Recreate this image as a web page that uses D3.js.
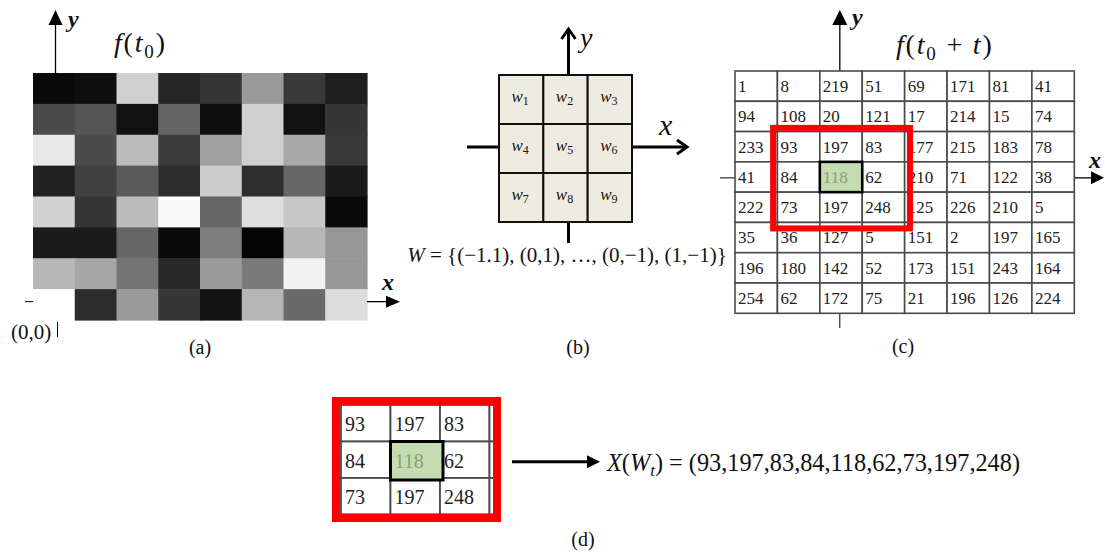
<!DOCTYPE html>
<html>
<meta charset="utf-8">
<head>
<script src="https://d3js.org/d3.v7.min.js"></script>
<style>
body { margin: 0; background: #fff; }
svg text { font-family: "Times New Roman", Tinos, "Liberation Serif", Times, serif; fill: #111; }
</style>
</head>
<body>
<script>
// grey level of every pixel of frame f(t0), top row first
var greyRows = [
  [10, 15, 208, 38, 54, 154, 58, 30],
  [74, 85, 17, 100, 14, 208, 17, 54],
  [232, 75, 187, 59, 160, 207, 168, 56],
  [34, 65, 90, 44, 204, 46, 102, 27],
  [210, 54, 188, 250, 102, 222, 200, 10],
  [27, 27, 102, 10, 124, 5, 182, 150],
  [184, 166, 116, 40, 154, 122, 242, 150],
  [255, 44, 154, 54, 18, 182, 106, 220]
];

// pixel values of frame f(t0 + t)
var pixelRows = [
  [1, 8, 219, 51, 69, 171, 81, 41],
  [94, 108, 20, 121, 17, 214, 15, 74],
  [233, 93, 197, 83, 177, 215, 183, 78],
  [41, 84, 118, 62, 210, 71, 122, 38],
  [222, 73, 197, 248, 125, 226, 210, 5],
  [35, 36, 127, 5, 151, 2, 197, 165],
  [196, 180, 142, 52, 173, 151, 243, 164],
  [254, 62, 172, 75, 21, 196, 126, 224]
];

var windowSubs = ["1", "2", "3", "4", "5", "6", "7", "8", "9"];
var windowTop = 2, windowLeft = 1;   // window position in (c)
var neighbourSet = "W = {(\u22121.1), (0,1), \u2026, (0,\u22121), (1,\u22121)}";
var panelLabels = ["(a)", "(b)", "(c)", "(d)"];

var svg = d3.select("body").append("svg")
  .attr("width", 1105).attr("height", 553);

function arrow(g, x1, y1, x2, y2, w, head, open) {
  var dx = x2 - x1, dy = y2 - y1, len = Math.sqrt(dx * dx + dy * dy);
  var ux = dx / len, uy = dy / len, px = -uy, py = ux;
  var L = head[0], H = head[1];
  var bx = x2 - ux * L, by = y2 - uy * L;
  g.append("line").attr("x1", x1).attr("y1", y1)
    .attr("x2", open ? x2 - ux * 2 : bx + ux).attr("y2", open ? y2 - uy * 2 : by + uy)
    .attr("stroke", "#000").attr("stroke-width", w);
  var pts = [[bx + px * H, by + py * H], [x2, y2], [bx - px * H, by - py * H]];
  if (open) {
    g.append("polyline").attr("points", pts.join(" "))
      .attr("fill", "none").attr("stroke", "#000").attr("stroke-width", w);
  } else {
    g.append("polygon").attr("points", pts.join(" ")).attr("fill", "#000");
  }
}

// f(t0 ...) heading with a subscript zero
function frameTitle(g, x, y, tail) {
  var t = g.append("text").attr("x", x).attr("y", y).attr("font-size", 28)
    .attr("letter-spacing", 1.8);
  t.append("tspan").attr("font-style", "italic").text("f");
  t.append("tspan").text("(");
  t.append("tspan").attr("font-style", "italic").text("t");
  t.append("tspan").attr("font-size", 19).attr("dy", 6).text("0");
  if (tail) {
    t.append("tspan").attr("dy", -6).text(" + ");
    t.append("tspan").attr("font-style", "italic").text("t");
    t.append("tspan").text(")");
  } else {
    t.append("tspan").attr("dy", -6).text(")");
  }
}

// ---------- (a) ----------
var ga = svg.append("g");
var xa = d3.scaleBand().domain(d3.range(8)).range([33, 367]);
var ya = d3.scaleBand().domain(d3.range(8)).range([73, 320]);
var cellsA = [];
greyRows.forEach(function(row, r) {
  row.forEach(function(v, c) { cellsA.push({r: r, c: c, v: v}); });
});
ga.selectAll("rect").data(cellsA).join("rect")
  .attr("x", function(d) { return xa(d.c); })
  .attr("y", function(d) { return ya(d.r); })
  .attr("width", xa.bandwidth() + 0.6)
  .attr("height", ya.bandwidth() + 0.6)
  .attr("fill", function(d) { return d3.rgb(d.v, d.v, d.v); });

var axA = xa(0) + 22.5, ayA = ya(7) + 12.5;
arrow(ga, axA, ya(0), axA, 10, 1.3, [15, 7]);
arrow(ga, xa(7) + xa.bandwidth(), ayA, 400, ayA, 1.3, [14, 6]);
ga.append("line").attr("x1", 25).attr("x2", 33).attr("y1", ayA).attr("y2", ayA)
  .attr("stroke", "#000").attr("stroke-width", 1);
ga.append("text").attr("x", 68).attr("y", 27).attr("font-size", 24)
  .attr("font-weight", "bold").attr("font-style", "italic").text("y");
ga.append("text").attr("x", 382).attr("y", 290).attr("font-size", 24)
  .attr("font-weight", "bold").attr("font-style", "italic").text("x");
frameTitle(ga, 114, 52, false);
ga.append("text").attr("x", 11).attr("y", 339).attr("font-size", 21).text("(0,0)");
ga.append("line").attr("x1", 57.5).attr("x2", 57.5).attr("y1", 322).attr("y2", 337)
  .attr("stroke", "#000").attr("stroke-width", 1);

// ---------- (b) ----------
var gb = svg.append("g");
var xb = d3.scaleBand().domain(d3.range(3)).range([499, 632]);
var yb = d3.scaleBand().domain(d3.range(3)).range([75, 222]);
var axB = xb(1) + xb.bandwidth() / 2 + 3, ayB = yb(1) + yb.bandwidth() / 2 - 1.5;
arrow(gb, axB, yb(0), axB, 29, 3, [10, 7], true);
gb.append("line").attr("x1", axB).attr("x2", axB).attr("y1", 222).attr("y2", 243)
  .attr("stroke", "#000").attr("stroke-width", 3);
gb.append("line").attr("x1", 467).attr("x2", 499).attr("y1", ayB).attr("y2", ayB)
  .attr("stroke", "#000").attr("stroke-width", 3);
arrow(gb, 632, ayB, 687, ayB, 3, [10, 7], true);
gb.selectAll("rect").data(windowSubs).join("rect")
  .attr("x", function(d, i) { return xb(i % 3); })
  .attr("y", function(d, i) { return yb(Math.floor(i / 3)); })
  .attr("width", xb.bandwidth()).attr("height", yb.bandwidth())
  .attr("fill", "#eeece1").attr("stroke", "#111").attr("stroke-width", 2);
var wl = gb.selectAll("text.w").data(windowSubs).join("text").attr("class", "w")
  .attr("x", function(d, i) { return xb(i % 3) + xb.bandwidth() / 2 - 1; })
  .attr("y", function(d, i) { return yb(Math.floor(i / 3)) + yb.bandwidth() / 2 + 2; })
  .attr("text-anchor", "middle").attr("font-size", 17);
wl.append("tspan").attr("font-style", "italic").text("w");
wl.append("tspan").attr("font-size", 12).attr("dy", 3).text(function(d) { return d; });
gb.append("text").attr("x", 580).attr("y", 47).attr("font-size", 28)
  .attr("font-style", "italic").text("y");
gb.append("text").attr("x", 659).attr("y", 135).attr("font-size", 30)
  .attr("font-style", "italic").text("x");
var wt = gb.append("text").attr("x", 567).attr("y", 262).attr("font-size", 21)
  .attr("text-anchor", "middle");
wt.append("tspan").attr("font-style", "italic").text("W");
wt.append("tspan").text(neighbourSet.slice(1));

// ---------- (c) ----------
var gc = svg.append("g");
var xc = d3.scaleBand().domain(d3.range(8)).range([735, 1074.3]);
var yc = d3.scaleBand().domain(d3.range(8)).range([71, 313.3]);
var axC = xc(2) + 20, ayC = yc(3) + 16;
arrow(gc, axC, yc(0), axC, 10, 1.3, [15, 7.5]);
arrow(gc, 1074, ayC, 1104, ayC, 1.3, [13, 6.5]);
gc.append("line").attr("x1", 720).attr("x2", 735).attr("y1", ayC).attr("y2", ayC)
  .attr("stroke", "#000").attr("stroke-width", 1);
gc.append("line").attr("x1", axC).attr("x2", axC).attr("y1", 313).attr("y2", 328)
  .attr("stroke", "#000").attr("stroke-width", 1);
gc.append("text").attr("x", 852).attr("y", 25).attr("font-size", 24)
  .attr("font-weight", "bold").attr("font-style", "italic").text("y");
gc.append("text").attr("x", 1089).attr("y", 168).attr("font-size", 24)
  .attr("font-weight", "bold").attr("font-style", "italic").text("x");
frameTitle(gc, 896, 54, true);

var cellsC = [];
pixelRows.forEach(function(row, r) {
  row.forEach(function(v, c) { cellsC.push({r: r, c: c, v: v}); });
});
var centre = function(d) { return d.r === windowTop + 1 && d.c === windowLeft + 1; };
gc.selectAll("rect.cell").data(cellsC).join("rect").attr("class", "cell")
  .attr("x", function(d) { return xc(d.c); })
  .attr("y", function(d) { return yc(d.r); })
  .attr("width", xc.bandwidth()).attr("height", yc.bandwidth())
  .attr("fill", "#fff").attr("stroke", "#4a4a4a").attr("stroke-width", 1.6);
var cc = cellsC.filter(centre)[0];
gc.append("rect").attr("x", xc(cc.c)).attr("y", yc(cc.r))
  .attr("width", xc.bandwidth()).attr("height", yc.bandwidth())
  .attr("fill", "#c4dcb0").attr("stroke", "#000").attr("stroke-width", 2.6);
gc.selectAll("text.v").data(cellsC).join("text").attr("class", "v")
  .attr("x", function(d) { return xc(d.c) + 3; })
  .attr("y", function(d) { return yc(d.r) + 21; })
  .attr("font-size", 17)
  .style("fill", function(d) { return centre(d) ? "#86a07a" : "#222"; })
  .text(function(d) { return d.v; });
gc.append("rect")
  .attr("x", xc(windowLeft) - 4.3).attr("y", yc(windowTop) - 3.7)
  .attr("width", xc(windowLeft + 3) - xc(windowLeft) + 9.6)
  .attr("height", yc(windowTop + 3) - yc(windowTop) + 9.7)
  .attr("fill", "none").attr("stroke", "#f00").attr("stroke-width", 6);

// ---------- (d) ----------
var gd = svg.append("g");
var windowVals = pixelRows.slice(windowTop, windowTop + 3)
  .map(function(row) { return row.slice(windowLeft, windowLeft + 3); });
var xd = d3.scaleBand().domain(d3.range(4)).range([341, 341 + 4 * 49.5]);
var yd = d3.scaleBand().domain(d3.range(4)).range([405, 405 + 4 * 36.5]);
svg.append("defs").append("clipPath").attr("id", "clipd")
  .append("rect").attr("x", 339).attr("y", 404).attr("width", 155).attr("height", 113);
var cellsD = [];
d3.range(4).forEach(function(r) {
  d3.range(4).forEach(function(c) {
    cellsD.push({r: r, c: c, v: (r < 3 && c < 3) ? windowVals[r][c] : null});
  });
});
var inner = gd.append("g").attr("clip-path", "url(#clipd)");
inner.append("rect").attr("x", 339).attr("y", 404).attr("width", 155).attr("height", 113)
  .attr("fill", "#fff");
inner.selectAll("rect.cell").data(cellsD).join("rect").attr("class", "cell")
  .attr("x", function(d) { return xd(d.c); })
  .attr("y", function(d) { return yd(d.r); })
  .attr("width", xd.bandwidth()).attr("height", yd.bandwidth())
  .attr("fill", "#fff").attr("stroke", "#4a4a4a").attr("stroke-width", 1.8);
inner.append("rect").attr("x", xd(1)).attr("y", yd(1))
  .attr("width", xd.bandwidth() + 3).attr("height", yd.bandwidth() + 2)
  .attr("fill", "#c4dcb0").attr("stroke", "#000").attr("stroke-width", 3);
inner.selectAll("text.v").data(cellsD.filter(function(d) { return d.v !== null; }))
  .join("text").attr("class", "v")
  .attr("x", function(d) { return xd(d.c) + 4; })
  .attr("y", function(d) { return yd(d.r) + 26; })
  .attr("font-size", 20)
  .style("fill", function(d) { return d.r === 1 && d.c === 1 ? "#86a07a" : "#222"; })
  .text(function(d) { return d.v; });
gd.append("rect").attr("x", 336).attr("y", 401).attr("width", 161).attr("height", 117)
  .attr("fill", "none").attr("stroke", "#f00").attr("stroke-width", 8);
arrow(gd, 512, 461.7, 600, 461.7, 3, [13, 6.5]);
var xt = gd.append("text").attr("x", 607).attr("y", 471).attr("font-size", 24.3);
xt.append("tspan").attr("font-style", "italic").text("X");
xt.append("tspan").text("(");
xt.append("tspan").attr("font-style", "italic").text("W");
xt.append("tspan").attr("font-style", "italic").attr("font-size", 17).attr("dy", 5).text("t");
xt.append("tspan").attr("dy", -5).text(") = (" + [].concat.apply([], windowVals).join(",") + ")");

// ---------- panel labels ----------
var labelPos = [[200, 354], [578, 354], [903, 353], [583, 546]];
svg.selectAll("text.lbl").data(panelLabels).join("text").attr("class", "lbl")
  .attr("x", function(d, i) { return labelPos[i][0]; })
  .attr("y", function(d, i) { return labelPos[i][1]; })
  .attr("text-anchor", "middle").attr("font-size", 20)
  .text(function(d) { return d; });
</script>
</body>
</html>
